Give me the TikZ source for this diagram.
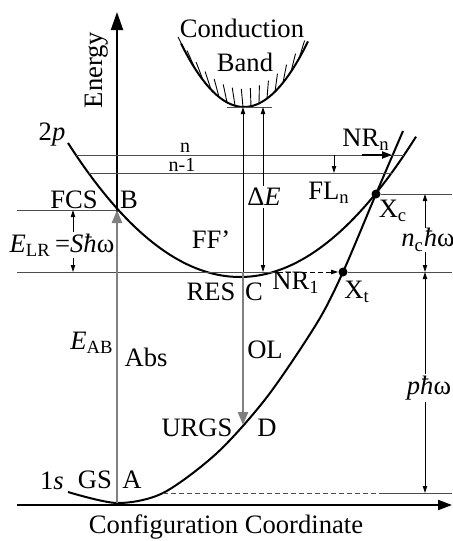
\documentclass[tikz,border=0pt]{standalone}
\usepackage{fontspec}
\setmainfont{Liberation Serif}
\usepackage{tikz}
\usetikzlibrary{arrows.meta, positioning}

\newcommand{\sub}[1]{\textsubscript{#1}}

\begin{document}
\begin{tikzpicture}[
  x=0.5pt, y=-0.5pt,
  every node/.style={font=\fontsize{13.3}{16}\selectfont, inner sep=1pt},
  small/.style={font=\fontsize{10}{12}\selectfont},
  axis/.style={line width=1pt, draw=black},
  curve/.style={line width=1pt, draw=black},
  hatch/.style={line width=0.45pt, draw=black},
  level/.style={line width=0.5pt, draw=black!70},
  tip/.style={-{Triangle[length=3.5pt, width=2.2pt]}, line width=0.45pt, draw=black},
  dim/.style={{Triangle[length=3.5pt, width=2.2pt]}-{Triangle[length=3.5pt, width=2.2pt]}, line width=0.45pt, draw=black},
  optic/.style={-{Triangle[length=6.5pt, width=5pt]}, line width=1.3pt, draw=black!50},
  dot/.style={circle, fill=black, inner sep=0pt, minimum size=4.5pt},
  blank/.style={fill=white, inner sep=1pt}
]
  \useasboundingbox (0,0) rectangle (452,541);

  % Key points
  \coordinate (A) at (117,503);
  \coordinate (B) at (117,210);
  \coordinate (C) at (243,272);
  \coordinate (D) at (243,425);
  \coordinate (cb) at (243,107);

  % Axes
  \draw[axis, -{Triangle[length=9pt, width=6pt]}] (117,505) -- (117,12);
  \draw[axis, -{Triangle[length=7pt, width=5pt]}] (17,505) -- (452,505);

  % Conduction band
  \draw[curve] plot[domain=181:308, samples=50] (\x, {107-(0.1265*(\x-244))^2});
  \foreach \x in {187,195,...,300}
    \draw[hatch] (\x, {107-(0.1265*(\x-244))^2}) -- ++({0.13*(\x-256)}, -18);
  \draw[level] (227,107) -- (272,107);

  % 2p and 1s curves
  \draw[curve] plot[domain=68:416, samples=80] (\x, {277-(0.0673*(\x-240))^2});
  \draw[curve] plot[smooth] coordinates {(68,492) (117,503) (163,493) (217,453) (267,397) (317,323) (343,272) (376,194) (403,131)};
  \node[dot] (Xc) at (376,194) {};
  \node[dot] (Xt) at (343,272) {};

  % Levels
  \coordinate (nr1) at (278,272);
  \draw[level] (17,210) -- (B);
  \draw[level] (17,272) -- (nr1);
  \draw[level, tip, dashed, dash pattern=on 2.5pt off 1.5pt] (nr1) -- (Xt);
  \draw[level] (Xt) -- (452,272);
  \draw[level] (Xc) -- (452,194);
  \draw[level] (76,155) -- (404,155);
  \draw[level] (88.5,173) -- (391.5,173);
  \draw[level, dashed, dash pattern=on 2.5pt off 1.5pt] (163,493) -- (383,493);
  \draw[level] (383,493) -- (452,493);

  % Transitions
  \draw[optic] (A) -- (B);
  \draw[optic] (C) -- (D);
  \draw[tip] (C) -- (cb);
  \draw[-{Triangle[length=5pt, width=3.5pt]}, line width=1pt] (362,155) -- (392,155);
  \draw[tip] (334,155) -- (334,173);

  % Dimensions
  \draw[dim] (73,210) -- (73,272);
  \draw[dim] (263,107) -- (263,272);
  \draw[dim] (425,194) -- (425,272);
  \draw[dim] (425,272) -- (425,493);

  % Labels
  \node[rotate=90] (lbl_energy) at (97,70) {Energy};
  \node (lbl_cond) at (242,28) {Conduction};
  \node (lbl_band) at (245,62) {Band};
  \node (lbl_2p) at (52,135) {2\textit{p}};
  \node (lbl_1s) at (52,481) {1\textit{s}};
  \node[small] (lbl_n) at (185,148) {n};
  \node[small] (lbl_n1) at (182,165) {n-1};
  \node (lbl_fcs) at (74,200) {FCS};
  \node (lbl_b) at (129,200) {B};
  \node[blank] (lbl_elr) at (62,245) {\textit{E}\sub{LR}\,=\textit{Sħ}ω};
  \node (lbl_eab) at (92,343) {\textit{E}\sub{AB}};
  \node (lbl_abs) at (146,357) {Abs};
  \node (lbl_gs) at (95,480) {GS};
  \node (lbl_a) at (132,480) {A};
  \node (lbl_ff) at (211,240) {FF’};
  \node[blank] (lbl_de) at (264,197) {Δ\textit{E}};
  \node (lbl_res) at (211,292) {RES};
  \node (lbl_c) at (254,292) {C};
  \node (lbl_nr1) at (296,283) {NR\sub{1}};
  \node (lbl_ol) at (265,350) {OL};
  \node (lbl_urgs) at (197,428) {URGS};
  \node (lbl_d) at (267,428) {D};
  \node (lbl_nrn) at (366,140) {NR\sub{n}};
  \node (lbl_fln) at (329,193) {FL\sub{n}};
  \node (lbl_xc) at (393,211) {X\sub{c}};
  \node (lbl_xt) at (357,292) {X\sub{t}};
  \node[blank, inner sep=0.5pt] (lbl_nc) at (428,240) {\textit{n}\sub{c}\textit{ħ}ω};
  \node[blank] (lbl_p) at (429,388) {\textit{pħ}ω};
  \node (lbl_cc) at (226,527) {Configuration Coordinate};

\end{tikzpicture}
\end{document}
